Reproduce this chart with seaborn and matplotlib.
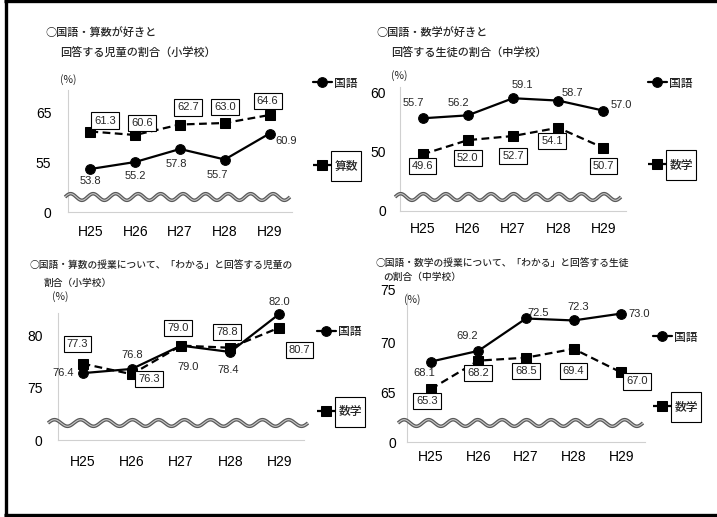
import matplotlib
matplotlib.use("Agg")
import matplotlib.pyplot as plt
from matplotlib import font_manager
from matplotlib.lines import Line2D
from matplotlib.path import Path
from matplotlib.transforms import ScaledTranslation
import numpy as np
import pandas as pd
import seaborn as sns

# data
years = ["H25", "H26", "H27", "H28", "H29"]

sho_like_kokugo = [53.8, 55.2, 57.8, 55.7, 60.9]
sho_like_sansu = [61.3, 60.6, 62.7, 63.0, 64.6]
chu_like_kokugo = [55.7, 56.2, 59.1, 58.7, 57.0]
chu_like_sugaku = [49.6, 52.0, 52.7, 54.1, 50.7]
sho_wakaru_kokugo = [76.4, 76.8, 79.0, 78.4, 82.0]
sho_wakaru_sansu = [77.3, 76.3, 79.0, 78.8, 80.7]
chu_wakaru_kokugo = [68.1, 69.2, 72.5, 72.3, 73.0]
chu_wakaru_sugaku = [65.3, 68.2, 68.5, 69.4, 67.0]

sns.set_theme(style="white")
plt.rcParams["font.family"] = ["Noto Sans CJK JP", "DejaVu Sans"]
installed = {f.name for f in font_manager.fontManager.ttflist}
num_font = ["Liberation Sans Narrow"] if "Liberation Sans Narrow" in installed else ["Liberation Sans"]
num_font = num_font + ["Noto Sans CJK JP"]

W, H = 717, 517
fig = plt.figure(figsize=(W / 100, H / 100), dpi=100)
fig.patch.set_facecolor("white")


def tall_box(x0, y0, width, height, mutation_size):
    # box with more room above/below than left/right, like the legend boxes
    px, py = 0.3 * mutation_size, 0.7 * mutation_size
    x0, y0 = x0 - px, y0 - py
    w, h = width + 2 * px, height + 2 * py
    return Path([(x0, y0), (x0 + w, y0), (x0 + w, y0 + h), (x0, y0 + h), (x0, y0)], closed=True)


def fig_line(xs, ys, lw, color, z=5):
    # xs, ys in pixels from the top-left corner
    xs = np.asarray(xs, dtype=float) / 100
    ys = (H - np.asarray(ys, dtype=float)) / 100
    fig.add_artist(Line2D(xs, ys, transform=fig.dpi_scale_trans, lw=lw, color=color, zorder=z,
                          solid_capstyle="butt"))


def wave(x0, x1, y, cycles=10, amp=3.3):
    t = np.linspace(0, 1, 500)
    xs = x0 + (x1 - x0) * t
    ys = y - amp * np.sin(2 * np.pi * cycles * t)
    fig_line(xs, ys, 2.6, "#595959")
    fig_line(xs, ys, 0.8, "#c8c8c8")


def panel(kok, other, other_name, lay):
    x0, x1, ybase, ytop = lay["rect"]
    ax = fig.add_axes([x0 / W, 1 - ybase / H, (x1 - x0) / W, (ybase - ytop) / H])
    df = pd.DataFrame({
        "年度": years * 2,
        "値": kok + other,
        "教科": ["国語"] * len(years) + [other_name] * len(years),
    })
    sns.lineplot(data=df, x="年度", y="値", hue="教科", style="教科",
                 palette={"国語": "black", other_name: "black"},
                 markers={"国語": "o", other_name: "s"},
                 dashes={"国語": "", other_name: (3.5, 2)},
                 markersize=7, linewidth=1.6, markeredgecolor="black",
                 errorbar=None, legend=False, ax=ax)
    for ln in ax.get_lines():
        ln.set_clip_on(False)

    ax.set_xlim(-0.5, len(years) - 0.5)
    ax.set_ylim(*lay["ylim"])
    ax.set_xlabel("")
    ax.set_ylabel("")
    ax.set_xticks(range(len(years)), years, fontsize=10, family=num_font)
    ax.set_xticks(np.arange(-0.5, len(years), 1), minor=True)
    ax.tick_params(axis="x", which="major", length=0, pad=lay["xpad"], colors="black")
    ax.tick_params(axis="x", which="minor", direction="in", length=5, width=0.8, color="#d0d0d0")
    ax.set_yticks(lay["yticks"], lay["ylabels"], fontsize=10, family=num_font)
    ax.tick_params(axis="y", length=0, pad=lay["ypad"], colors="black")
    ax.spines[["top", "right"]].set_visible(False)
    for s in ["left", "bottom"]:
        ax.spines[s].set_color("#d0d0d0")
        ax.spines[s].set_linewidth(0.8)

    # value labels
    for yr, v, off in zip(years, kok, lay["kok_off"]):
        ax.annotate(f"{v:.1f}", (yr, v), xytext=off, textcoords="offset pixels",
                    ha="center", va="center", fontsize=8, family=num_font,
                    annotation_clip=False)
    for yr, v, off in zip(years, other, lay["oth_off"]):
        ax.annotate(f"{v:.1f}", (yr, v), xytext=off, textcoords="offset pixels",
                    ha="center", va="center", fontsize=8, family=num_font,
                    annotation_clip=False, zorder=4,
                    bbox=dict(boxstyle="square,pad=0.28", fc="white", ec="black", lw=0.8))

    # legends outside the plot
    lx, ly1, ly2 = lay["legend"]
    h = ax.get_lines()
    leg_kw = dict(loc="center left", bbox_transform=fig.transFigure, frameon=False,
                  borderpad=0, borderaxespad=0, handlelength=1.6, handletextpad=0.2,
                  prop=dict(size=8.5, weight="medium"))
    leg1 = ax.legend([h[0]], ["国語"], bbox_to_anchor=(lx / W, 1 - ly1 / H), **leg_kw)
    ax.add_artist(leg1)
    leg2 = ax.legend([h[1]], [other_name], bbox_to_anchor=(lx / W, 1 - ly2 / H), **leg_kw)
    leg2.get_texts()[0].set_bbox(dict(boxstyle=tall_box, fc="white", ec="black", lw=0.8))

    # titles and unit
    (tx1, ty1), (tx2, ty2) = lay["title_xy"]
    fig.text(tx1 / W, 1 - ty1 / H, lay["title"][0], ha="left", va="center",
             fontsize=lay["title_fs"], fontweight="medium")
    fig.text(tx2 / W, 1 - ty2 / H, lay["title"][1], ha="left", va="center",
             fontsize=lay["title_fs"], fontweight="medium")
    px, py = lay["pct_xy"]
    fig.text(px / W, 1 - py / H, "(%)", ha="center", va="center", fontsize=7.5)

    wave(*lay["wave"])
    return ax


lay1 = dict(rect=(68, 292, 212, 90), ylim=(45.2, 69.6), yticks=[45.2, 55, 65], ylabels=["0", "55", "65"],
            xpad=9, ypad=12,
            kok_off=[(0, -12), (0, -14), (-4, -15), (-8, -16), (17, -8)],
            oth_off=[(15, 11), (7, 12), (8, 17), (0, 16), (-2, 14)],
            legend=(313, 83, 166),
            title=["○国語・算数が好きと", "回答する児童の割合（小学校）"],
            title_xy=[(45, 33), (60, 53)], title_fs=8,
            pct_xy=(68, 80), wave=(65, 290, 197))

lay2 = dict(rect=(400, 626, 211, 87), ylim=(40.0, 61.0), yticks=[40.0, 50, 60], ylabels=["0", "50", "60"],
            xpad=8, ypad=10,
            kok_off=[(-9, 15), (-9, 12), (9, 13), (14, 8), (18, 6)],
            oth_off=[(0, -12), (0, -18), (0, -20), (-6, -13), (0, -18)],
            legend=(648, 83, 165),
            title=["○国語・数学が好きと", "回答する生徒の割合（中学校）"],
            title_xy=[(376, 33), (391, 53)], title_fs=8,
            pct_xy=(399, 76), wave=(395, 621, 197))

lay3 = dict(rect=(58, 304, 440, 313), ylim=(70.09, 82.08), yticks=[70.09, 75, 80], ylabels=["0", "75", "80"],
            xpad=11, ypad=11,
            kok_off=[(-19, 0), (0, 14), (7, -21), (-2, -18), (0, 12)],
            oth_off=[(-5, 20), (17, -5), (-3, 18), (-3, 16), (20, -22)],
            legend=(317, 332, 412),
            title=["○国語・算数の授業について、「わかる」と回答する児童の", "割合（小学校）"],
            title_xy=[(30, 265), (43, 283)], title_fs=7,
            pct_xy=(60, 297), wave=(48, 308, 423))

lay4 = dict(rect=(407, 645, 442, 293), ylim=(59.9, 75.1), yticks=[59.9, 65, 70, 75],
            ylabels=["0", "65", "70", "75"],
            xpad=6, ypad=8,
            kok_off=[(-7, -11), (-11, 15), (12, 5), (5, 13), (18, 0)],
            oth_off=[(-4, -12), (0, -12), (0, -13), (0, -22), (16, -9)],
            legend=(653, 337, 407),
            title=["○国語・数学の授業について、「わかる」と回答する生徒", "の割合（中学校）"],
            title_xy=[(376, 263), (383, 277)], title_fs=7,
            pct_xy=(412, 300), wave=(398, 643, 423))

panel(sho_like_kokugo, sho_like_sansu, "算数", lay1)
panel(chu_like_kokugo, chu_like_sugaku, "数学", lay2)
panel(sho_wakaru_kokugo, sho_wakaru_sansu, "数学", lay3)
ax4 = panel(chu_wakaru_kokugo, chu_wakaru_sugaku, "数学", lay4)

# the top "75" label sits a little above its tick in the original
top_lab = ax4.get_yticklabels()[-1]
top_lab.set_transform(top_lab.get_transform() + ScaledTranslation(0, 0.04, fig.dpi_scale_trans))

# outer frame (top, left, bottom)
fig_line([4, W], [1.2, 1.2], 2.4, "black", z=10)
fig_line([5.5, 5.5], [0, 516], 2.4, "black", z=10)
fig_line([4, W], [514.5, 514.5], 2.4, "black", z=10)

fig.savefig("out.png", dpi=100, facecolor="white")
